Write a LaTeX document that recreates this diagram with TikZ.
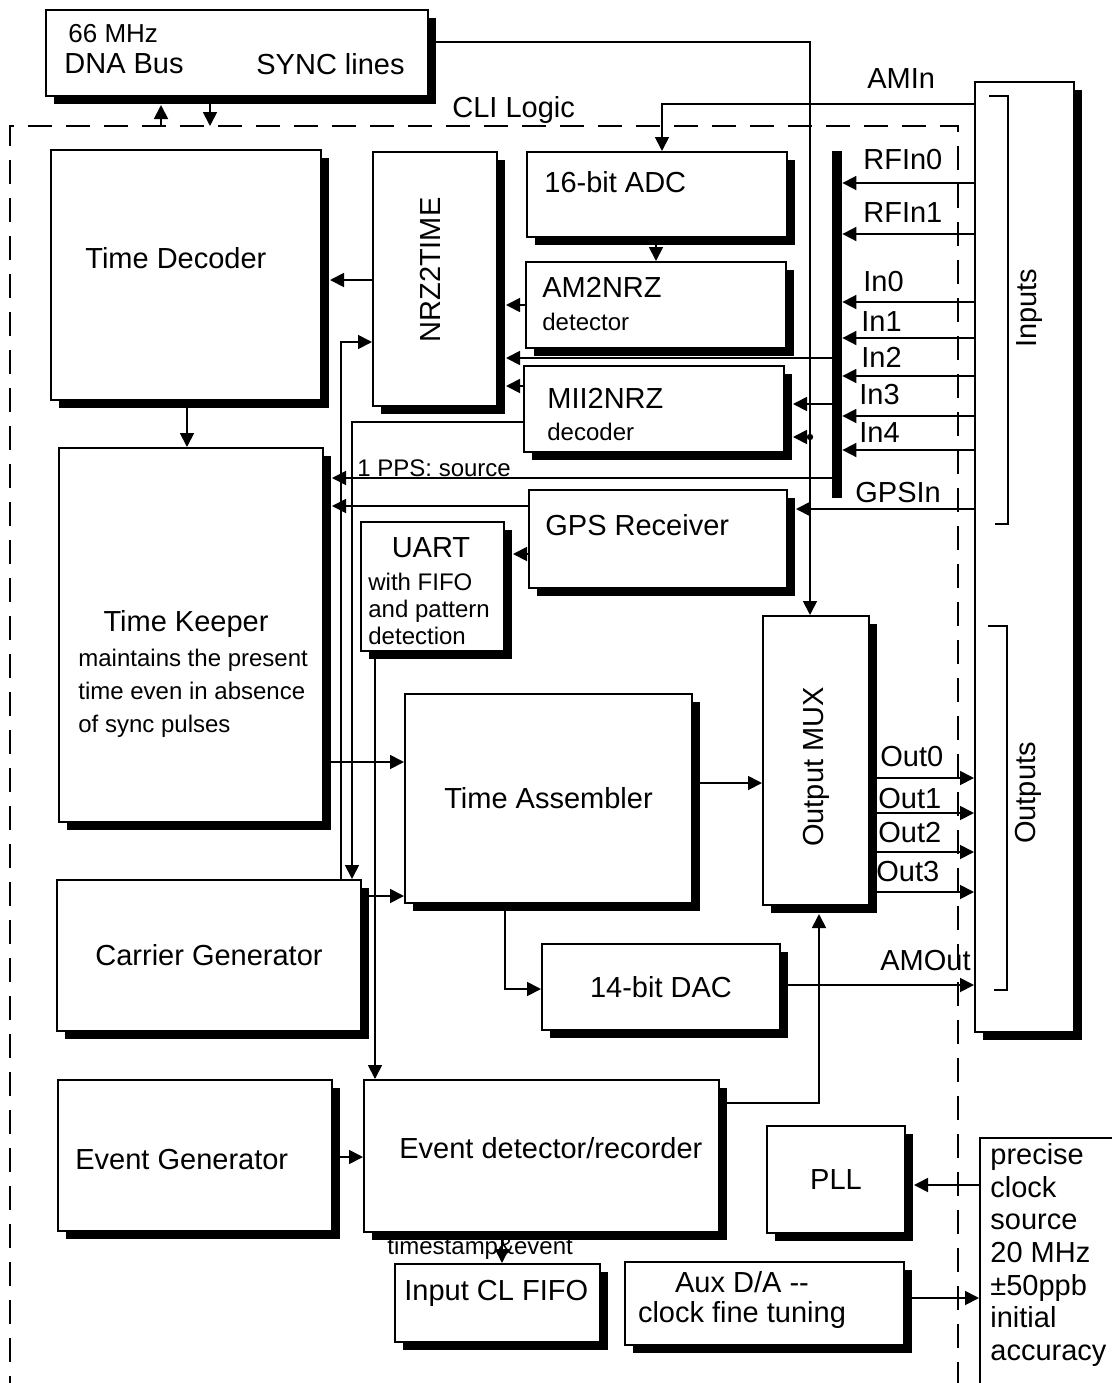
\documentclass[tikz,border=0pt]{standalone}
\usepackage{fontspec}
\setmainfont{Liberation Sans}
\usetikzlibrary{arrows.meta}

\begin{document}
\begin{tikzpicture}[x=0.5pt, y=-0.5pt, >={Triangle[length=7pt,width=7pt]},
    blk/.style={draw, line width=1pt, fill=white, inner sep=0pt,
      preaction={fill=black, transform canvas={xshift=4pt, yshift=-4pt}}},
    openbox/.style={draw, line width=1pt, fill=white, inner sep=0pt},
    wire/.style={line width=0.9pt},
    toshadow/.style={shorten >=4pt},
    txtbig/.style={inner sep=0pt, font=\fontsize{14.5pt}{17pt}\selectfont},
    txtsmall/.style={inner sep=0pt, font=\fontsize{12pt}{13.3pt}\selectfont},
    txtnote/.style={inner sep=0pt, font=\fontsize{12pt}{13pt}\selectfont}]
    \useasboundingbox (0,0) rectangle (1112,1383);

    \draw[line width=1pt, dash pattern=on 12pt off 7pt] (10,1400) -- (10,126) -- (958,126) -- (958,1400);
    \node[txtbig, anchor=west] (cli) at (452,110) {CLI Logic};

    \node[blk, minimum width=191pt, minimum height=43pt] (dna) at (237,53) {};
    \node[blk, minimum width=135pt, minimum height=125pt] (tdec) at (186,275) {};
    \node[blk, minimum width=62pt, minimum height=127pt] (nrz) at (435,279) {};
    \node[blk, minimum width=130pt, minimum height=42.5pt] (adc) at (657,194.5) {};
    \node[blk, minimum width=130pt, minimum height=43pt] (am) at (656,305) {};
    \node[blk, minimum width=130pt, minimum height=43pt] (mii) at (654,409) {};
    \node[blk, minimum width=132pt, minimum height=187pt] (tkeep) at (191,635) {};
    \node[blk, minimum width=129pt, minimum height=49pt] (gps) at (658,539) {};
    \node[blk, minimum width=71.5pt, minimum height=64.5pt] (uart) at (432.5,586.5) {};
    \node[blk, txtbig, minimum width=143.5pt, minimum height=104.5pt] (tasm) at (548.5,798.5) {Time Assembler};
    \node[blk, minimum width=53pt, minimum height=144.5pt] (mux) at (816,760.5) {};
    \node[blk, txtbig, minimum width=119pt, minimum height=43pt] (dac) at (661,987) {14-bit DAC};
    \node[blk, txtbig, minimum width=152pt, minimum height=75.5pt] (cgen) at (209,955.5) {Carrier Generator};
    \node[blk, minimum width=137pt, minimum height=75.5pt] (egen) at (195,1155.5) {};
    \node[blk, minimum width=177.5pt, minimum height=76pt] (edet) at (541.5,1156) {};
    \node[blk, minimum width=102.5pt, minimum height=39pt] (fifo) at (497.5,1303) {};
    \node[blk, txtbig, minimum width=69pt, minimum height=53.5pt] (pll) at (836,1179.5) {PLL};
    \node[blk, minimum width=139.5pt, minimum height=41.5pt] (aux) at (764.5,1303.5) {};
    \node[blk, minimum width=49.5pt, minimum height=475pt] (io) at (1024.5,557) {};
    \node[openbox, minimum width=80pt, minimum height=141pt] (clk) at (1060,1279) {};
    \node[fill=black, inner sep=0pt, minimum width=5pt, minimum height=173.5pt] (bus) at (837,324.5) {};

    \node[txtbig, anchor=west, font=\fontsize{13pt}{15pt}\selectfont] (dnaclk) at (68,34) {66 MHz};
    \node[txtbig, anchor=west] (dnaname) at (64,64) {DNA Bus};
    \node[txtbig, anchor=west] (dnasync) at (256,64) {SYNC lines};
    \node[txtbig, anchor=west] (aminlbl) at (867,79) {AMIn};
    \node[txtbig, anchor=west] (tdec-t) at (85,258) {Time Decoder};
    \node[txtbig, rotate=90] (nrz-t) at (430,270) {NRZ2TIME};
    \node[txtbig, anchor=west] (adc-t) at (544,182) {16-bit ADC};
    \node[txtbig, anchor=west] (am-t) at (542,287) {AM2NRZ};
    \node[txtsmall, anchor=west] (am-s) at (542,322) {detector};
    \node[txtbig, anchor=west] (mii-t) at (547,398) {MII2NRZ};
    \node[txtsmall, anchor=west] (mii-s) at (547,432) {decoder};
    \node[txtsmall, anchor=west] (ppslbl) at (357,468) {1 PPS: source};
    \node[txtbig, anchor=west] (gps-t) at (545,525) {GPS Receiver};
    \node[txtbig] (uart-t) at (431,548) {UART};
    \node[txtsmall, anchor=west, align=left] (uart-s) at (368,609) {with FIFO\\and pattern\\detection};
    \node[txtbig] (tkeep-t) at (186,624) {Time Keeper};
    \node[txtsmall, anchor=west, align=left, font=\fontsize{12pt}{16.4pt}\selectfont] (tkeep-s) at (78,693) {maintains the present\\time even in absence\\of sync pulses};
    \node[txtbig, rotate=90] (mux-t) at (816,767) {Output MUX};
    \node[txtbig, anchor=west] (egen-t) at (75,1160) {Event Generator};
    \node[txtbig, anchor=west] (edet-t) at (399,1148) {Event detector/recorder};
    \node[txtnote, anchor=west] (tslbl) at (387,1248) {timestamp\&event};
    \node[txtbig, anchor=west] (fifo-t) at (404,1293) {Input CL FIFO};
    \node[txtbig, align=center, font=\fontsize{14.5pt}{15pt}\selectfont] (aux-t) at (742,1300) {Aux D/A {-}{-}\\clock fine tuning};
    \node[txtbig, anchor=west, align=left, font=\fontsize{14.5pt}{16.35pt}\selectfont] (clk-t) at (990,1255) {precise\\clock\\source\\20 MHz\\±50ppb\\initial\\accuracy};
    \node[txtbig, rotate=90] (in-t) at (1030,308) {Inputs};
    \node[txtbig, rotate=90] (out-t) at (1028,793) {Outputs};
    \node[txtbig, anchor=west] (gpsinlbl) at (855,493) {GPSIn};
    \node[txtbig, anchor=west] (amoutlbl) at (880,961) {AMOut};

    \draw[wire] (989,96) -- (1008,96) -- (1008,524) -- (995,524);
    \draw[wire] (988,626) -- (1007,626) -- (1007,990) -- (994,990);

    \coordinate (dnaU) at (161,126);
    \coordinate (dnaD) at (210,126);
    \draw[wire,->,toshadow] (dnaU) -- (dna.south -| dnaU);
    \draw[wire,->] (dna.south -| dnaD) -- (dnaD);

    \coordinate (syncT) at (810,42);
    \coordinate (syncB) at (810,437);
    \draw[wire,->] (dna.east |- syncT) -- (syncT) -- (mux.north -| syncT);
    \fill (syncB) circle (1.6pt);
    \draw[wire,->,toshadow] (syncB) -- (mii.east |- syncB);

    \coordinate (amin) at (662,104);
    \coordinate (adcam) at (656,0);
    \draw[wire,->] (io.west |- amin) -- (amin) -- (adc.north -| amin);
    \draw[wire,->] (adc.south -| adcam) -- (am.north -| adcam);

    \foreach \yy/\ly/\lx/\nm in {183/160/863/RFIn0, 234/213/863/RFIn1, 302/282/863/In0,
        338/322/861/In1, 376/357/861/In2, 416/395/859/In3, 450/433/859/In4} {
      \coordinate (in-\nm) at (0,\yy);
      \draw[wire,->] (io.west |- in-\nm) -- (bus.east |- in-\nm);
      \node[txtbig, anchor=west] (lbl-\nm) at (\lx,\ly) {\nm};
    }
    \coordinate (lvGpsIn) at (0,509);
    \draw[wire,->,toshadow] (io.west |- lvGpsIn) -- (gps.east |- lvGpsIn);

    \coordinate (lvIn2) at (0,358);
    \coordinate (lvIn3) at (0,404);
    \coordinate (lvMii) at (0,386);
    \coordinate (lvTd) at (0,280);
    \draw[wire,->,toshadow] (am.west) -- (nrz.east |- am.west);
    \draw[wire,->,toshadow] (bus.west |- lvIn2) -- (nrz.east |- lvIn2);
    \draw[wire,->,toshadow] (mii.west |- lvMii) -- (nrz.east |- lvMii);
    \draw[wire,->,toshadow] (bus.west |- lvIn3) -- (mii.east |- lvIn3);
    \draw[wire,->,toshadow] (nrz.west |- lvTd) -- (tdec.east |- lvTd);

    \coordinate (lvCg) at (341,342);
    \coordinate (lvRec) at (352,422);
    \coordinate (lvUe) at (375,0);
    \coordinate (lvTk) at (187,0);
    \draw[wire,->] (cgen.north -| lvCg) -- (lvCg) -- (nrz.west |- lvCg);
    \draw[wire,->] (mii.west |- lvRec) -- (lvRec) -- (cgen.north -| lvRec);
    \draw[wire,->] (uart.south -| lvUe) -- (edet.north -| lvUe);
    \draw[wire,->] (tdec.south -| lvTk) -- (tkeep.north -| lvTk);

    \coordinate (lvPps) at (0,478);
    \coordinate (lvGps) at (0,506);
    \coordinate (lvUart) at (0,554);
    \draw[wire,->,toshadow] (bus.west |- lvPps) -- (tkeep.east |- lvPps);
    \draw[wire,->,toshadow] (gps.west |- lvGps) -- (tkeep.east |- lvGps);
    \draw[wire,->,toshadow] (gps.west |- lvUart) -- (uart.east |- lvUart);

    \coordinate (lvTa) at (0,762);
    \coordinate (lvCt) at (0,896);
    \coordinate (lvTm) at (0,783);
    \coordinate (lvDac) at (505,989);
    \draw[wire,->] (tkeep.east |- lvTa) -- (tasm.west |- lvTa);
    \draw[wire,->] (cgen.east |- lvCt) -- (tasm.west |- lvCt);
    \draw[wire,->] (tasm.east |- lvTm) -- (mux.west |- lvTm);
    \draw[wire,->] (tasm.south -| lvDac) -- (lvDac) -- (dac.west |- lvDac);

    \foreach \yy/\ly/\lx/\nm in {778/757/880/Out0, 813/799/878/Out1, 852/833/878/Out2, 892/872/876/Out3} {
      \coordinate (out-\nm) at (0,\yy);
      \draw[wire,->] (mux.east |- out-\nm) -- (io.west |- out-\nm);
      \node[txtbig, anchor=west] (lbl-\nm) at (\lx,\ly) {\nm};
    }
    \coordinate (lvAmOut) at (0,985);
    \draw[wire,->] (dac.east |- lvAmOut) -- (io.west |- lvAmOut);

    \coordinate (lvEm) at (819,1103);
    \coordinate (lvEe) at (0,1157);
    \coordinate (lvEf) at (502,0);
    \draw[wire,->,toshadow] (edet.east |- lvEm) -- (lvEm) -- (mux.south -| lvEm);
    \draw[wire,->] (egen.east |- lvEe) -- (edet.west |- lvEe);
    \draw[wire,->] (edet.south -| lvEf) -- (fifo.north -| lvEf);

    \coordinate (lvCp) at (0,1185);
    \coordinate (lvAc) at (0,1298);
    \draw[wire,->,toshadow] (clk.west |- lvCp) -- (pll.east |- lvCp);
    \draw[wire,->] (aux.east |- lvAc) -- (clk.west |- lvAc);
\end{tikzpicture}
\end{document}
